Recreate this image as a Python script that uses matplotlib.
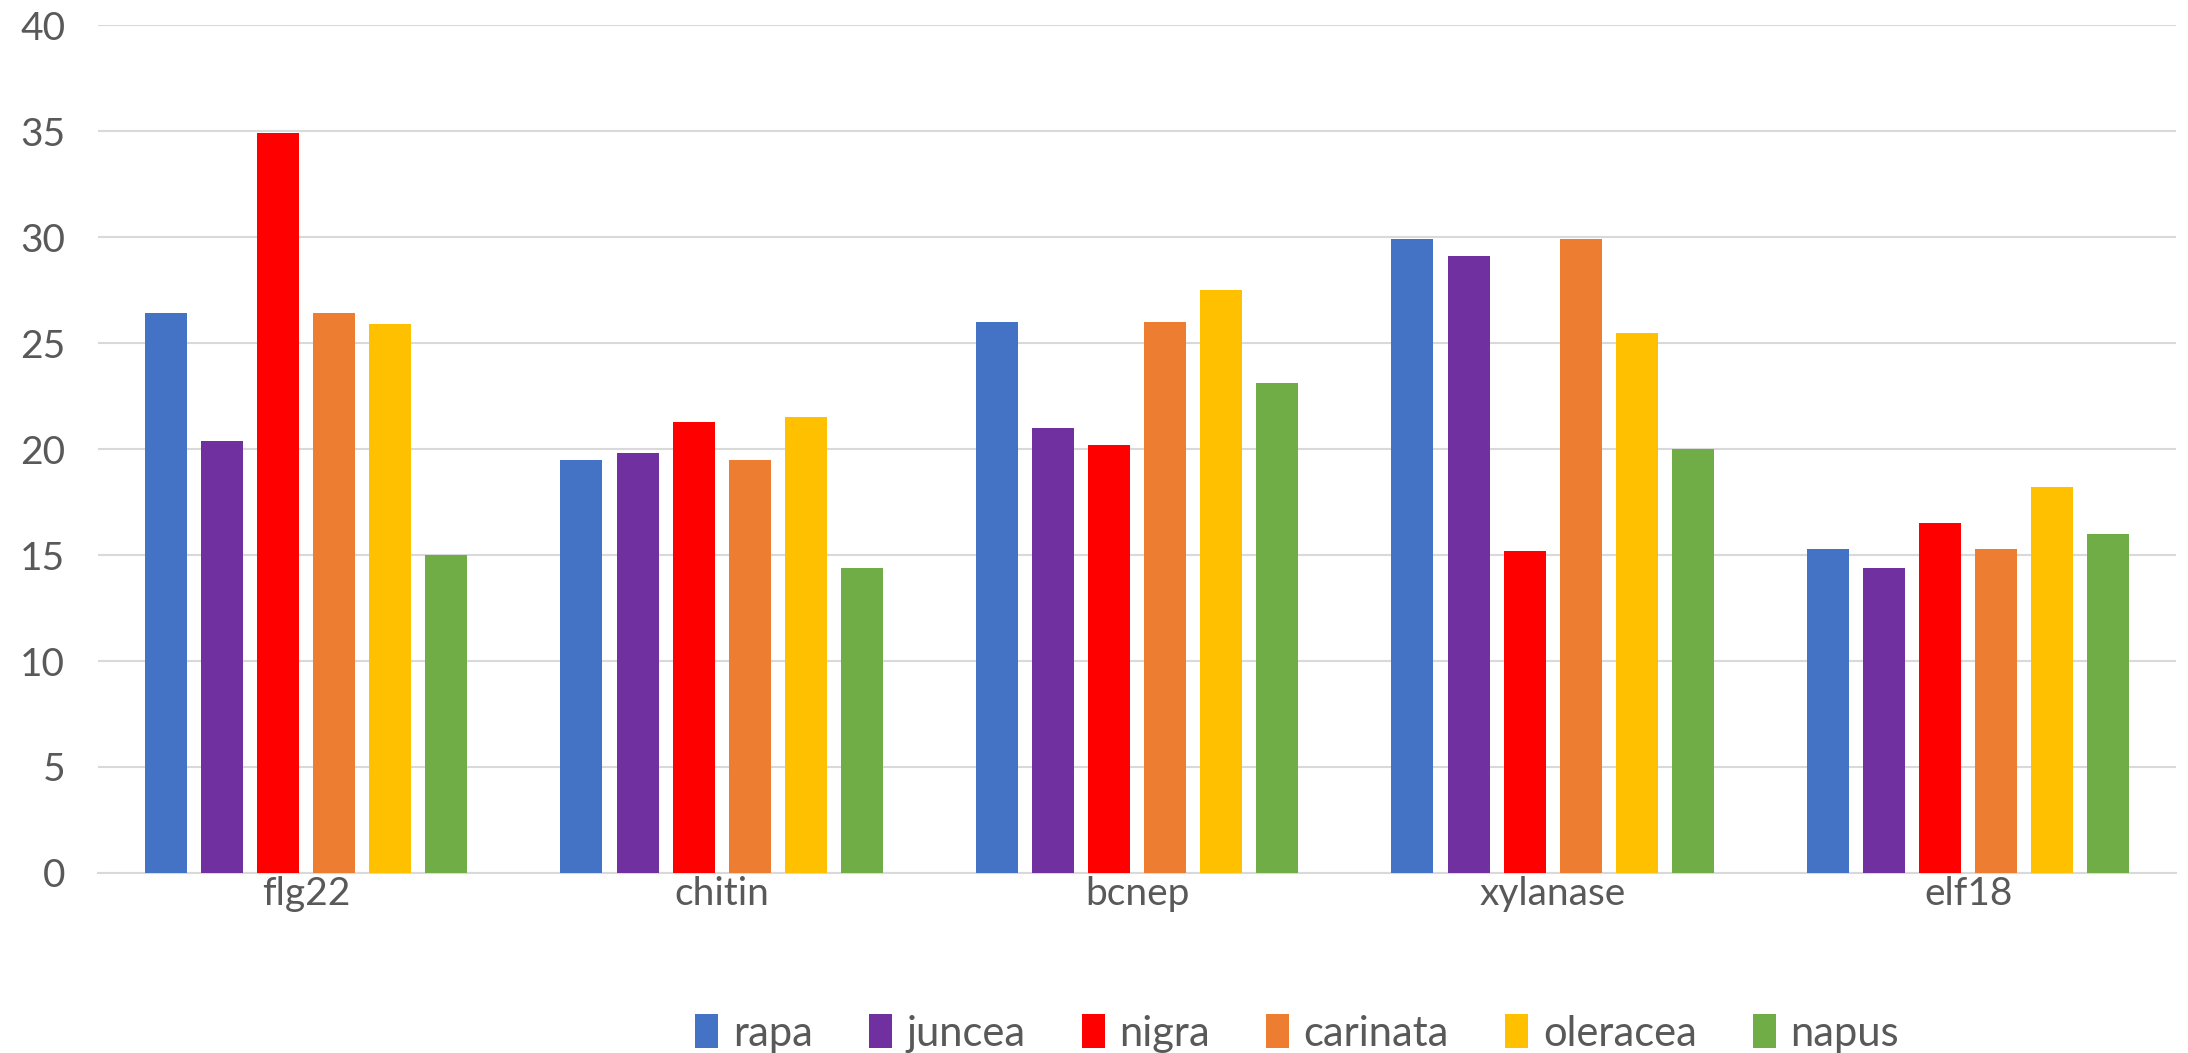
import matplotlib.pyplot as plt
import numpy as np

plt.rcParams['font.family'] = ['Lato', 'DejaVu Sans']

#%%
# values
categories = ['flg22', 'chitin', 'bcnep', 'xylanase', 'elf18']
species = ['rapa', 'juncea', 'nigra', 'carinata', 'oleracea', 'napus']

rapa = [26.4, 19.5, 26.0, 29.9, 15.3]
juncea = [20.4, 19.8, 21.0, 29.1, 14.4]
nigra = [34.9, 21.3, 20.2, 15.2, 16.5]
carinata = [26.4, 19.5, 26.0, 29.9, 15.3]
oleracea = [25.9, 21.5, 27.5, 25.5, 18.2]
napus = [15.0, 14.4, 23.1, 20.0, 16.0]

series = [rapa, juncea, nigra, carinata, oleracea, napus]
colors = ['#4472C4', '#7030A0', '#FF0000', '#ED7D31', '#FFC000', '#70AD47']

yticks = [0, 5, 10, 15, 20, 25, 30, 35, 40]

#%%
fig = plt.figure(figsize=(21.88, 10.53), dpi=100)
ax = fig.add_axes([0.045, 0.171, 0.9495, 0.805])

x = np.arange(len(categories))
step = 0.135
width = 0.101
for j, (name, vals) in enumerate(zip(species, series)):
    ax.bar(x + (j - 2.5) * step, vals, width, color=colors[j], label=name, zorder=3)

ax.set_xlim(-0.5, len(categories) - 0.5)
ax.set_ylim(0, 40)
ax.set_yticks(yticks)
ax.set_xticks(x)
ax.set_xticklabels(categories)
ax.yaxis.grid(True, color='#D9D9D9', linewidth=1.5, zorder=0)
for s in ['top', 'right', 'left']:
    ax.spines[s].set_visible(False)
ax.spines['bottom'].set_color('#D9D9D9')
ax.spines['bottom'].set_linewidth(1.5)
ax.tick_params(axis='both', length=0, labelsize=28, colors='#595959')
ax.tick_params(axis='y', pad=24)
ax.tick_params(axis='x', pad=2)

ax.legend(loc='upper center', bbox_to_anchor=(0.577, -0.122), ncol=6, frameon=False,
          fontsize=30, labelcolor='#595959', handlelength=0.55, handleheight=0.9,
          handletextpad=0.35, columnspacing=1.35)

plt.savefig('out.png', dpi=100)
